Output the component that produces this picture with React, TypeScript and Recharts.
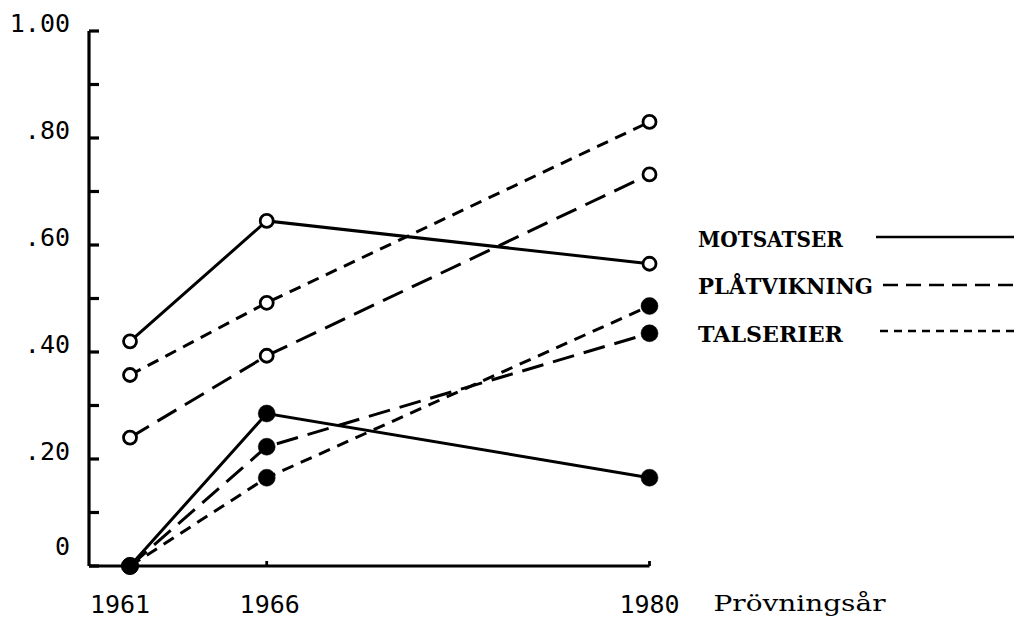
import React from 'react';
import { LineChart, Line, XAxis, YAxis, Legend, Label } from 'recharts';

const years = [1961, 1966, 1980];
const seriesNames = ['MOTSATSER', 'PLÅTVIKNING', 'TALSERIER'];
const motsatserOpen = [0.42, 0.645, 0.565];
const motsatserFilled = [0, 0.285, 0.165];
const platvikningOpen = [0.24, 0.393, 0.732];
const platvikningFilled = [0, 0.223, 0.435];
const talserierOpen = [0.357, 0.492, 0.83];
const talserierFilled = [0, 0.165, 0.486];
const yTickValues = [0, 0.1, 0.2, 0.3, 0.4, 0.5, 0.6, 0.7, 0.8, 0.9, 1.0];
const yTickLabels = ['0', '', '.20', '', '.40', '', '.60', '', '.80', '', '1.00'];
const xAxisTitle = 'Prövningsår';

const data = years.map((year, i) => ({
  year,
  motOpen: motsatserOpen[i],
  motFilled: motsatserFilled[i],
  platOpen: platvikningOpen[i],
  platFilled: platvikningFilled[i],
  talOpen: talserierOpen[i],
  talFilled: talserierFilled[i],
}));

const dashes = ['', '22 10', '12 8'];
const legendDashes = ['', '15 8', '8 6'];

const tickFont = '"DejaVu Sans Mono", monospace';
const serifFont = '"DejaVu Serif", serif';

const openDot = { r: 6.5, fill: '#fff', stroke: '#000', strokeWidth: 2.8, strokeDasharray: '0', clipDot: false };
const filledDot = { r: 8.5, fill: '#000', stroke: '#000', strokeWidth: 0.5, strokeDasharray: '0', clipDot: false };

const YTick = (props: any) => {
  const { x, y, payload } = props;
  const idx = yTickValues.indexOf(payload.value);
  const label = idx >= 0 ? yTickLabels[idx] : '';
  const baseline = payload.value === 0 ? y - 11 : y + 1;
  return (
    <g>
      <line x1={x} x2={x + 10} y1={y} y2={y} stroke="#000" strokeWidth={3.2} />
      {label ? (
        <text x={x - 19} y={baseline} textAnchor="end" fontFamily={tickFont} fontSize={25} fill="#000">
          {label}
        </text>
      ) : null}
    </g>
  );
};

const XTick = (props: any) => {
  const { x, y, payload, index } = props;
  const shift = index === 0 ? -10 : index === 1 ? 3 : 0;
  return (
    <g>
      <line x1={x} x2={x} y1={y} y2={y - 5} stroke="#000" strokeWidth={2.8} />
      <text x={x + shift} y={y + 47} textAnchor="middle" fontFamily={tickFont} fontSize={25} fill="#000">
        {String(payload.value)}
      </text>
    </g>
  );
};

const AxisTitle = (props: any) => {
  const vb = props.viewBox || {};
  const right = (vb.x || 0) + (vb.width || 0);
  const top = vb.y || 0;
  return (
    <text
      x={right + 64}
      y={top + 45}
      fontFamily={serifFont}
      fontSize={23}
      textLength={172}
      lengthAdjust="spacingAndGlyphs"
      fill="#000"
    >
      {xAxisTitle}
    </text>
  );
};

const legendRowY = [32, 79, 127];
const legendLineY = [22, 70, 116];
const legendLineX = [186, 193, 190];
const legendTextLen = [145, 175, 145];

const LegendContent = () => (
  <svg width={324} height={140} style={{ display: 'block' }}>
    {seriesNames.map((name, i) => (
      <g key={name}>
        <text
          x={8}
          y={legendRowY[i]}
          fontFamily={serifFont}
          fontWeight="bold"
          fontSize={22}
          textLength={legendTextLen[i]}
          lengthAdjust="spacingAndGlyphs"
          fill="#000"
        >
          {name}
        </text>
        <line
          x1={legendLineX[i]}
          x2={324}
          y1={legendLineY[i]}
          y2={legendLineY[i]}
          stroke="#000"
          strokeWidth={2.4}
          strokeDasharray={legendDashes[i] || undefined}
        />
      </g>
    ))}
  </svg>
);

export default function App() {
  return (
    <div style={{ position: 'absolute', left: 0, top: 0, background: '#fff' }}>
      <LineChart width={1014} height={623} data={data} margin={{ top: 31, right: 364.5, bottom: 0, left: 0 }}>
        <XAxis
          type="number"
          dataKey="year"
          domain={[1959.5, 1980]}
          ticks={years}
          interval={0}
          height={57}
          tickSize={0}
          tickMargin={0}
          tickLine={false}
          stroke="#000"
          strokeWidth={2.8}
          axisLine={{ stroke: '#000', strokeWidth: 2.8 }}
          tick={<XTick />}
        >
          <Label content={<AxisTitle />} />
        </XAxis>
        <YAxis
          type="number"
          domain={[0, 1]}
          ticks={yTickValues}
          interval={0}
          width={89}
          tickSize={0}
          tickMargin={0}
          tickLine={false}
          stroke="#000"
          strokeWidth={3.2}
          axisLine={{ stroke: '#000', strokeWidth: 3.2 }}
          tick={<YTick />}
        />
        <Legend
          layout="vertical"
          align="center"
          verticalAlign="middle"
          width={324}
          height={140}
          wrapperStyle={{ left: 690, top: 215, width: 324, height: 140 }}
          content={<LegendContent />}
        />
        <Line dataKey="motFilled" stroke="#000" strokeWidth={3} dot={filledDot} activeDot={false} isAnimationActive={false} legendType="none" />
        <Line dataKey="platFilled" stroke="#000" strokeWidth={3} strokeDasharray={dashes[1]} dot={filledDot} activeDot={false} isAnimationActive={false} legendType="none" />
        <Line dataKey="talFilled" stroke="#000" strokeWidth={3} strokeDasharray={dashes[2]} dot={filledDot} activeDot={false} isAnimationActive={false} legendType="none" />
        <Line dataKey="motOpen" name={seriesNames[0]} stroke="#000" strokeWidth={3} dot={openDot} activeDot={false} isAnimationActive={false} />
        <Line dataKey="platOpen" name={seriesNames[1]} stroke="#000" strokeWidth={3} strokeDasharray={dashes[1]} dot={openDot} activeDot={false} isAnimationActive={false} />
        <Line dataKey="talOpen" name={seriesNames[2]} stroke="#000" strokeWidth={3} strokeDasharray={dashes[2]} dot={openDot} activeDot={false} isAnimationActive={false} />
      </LineChart>
    </div>
  );
}
